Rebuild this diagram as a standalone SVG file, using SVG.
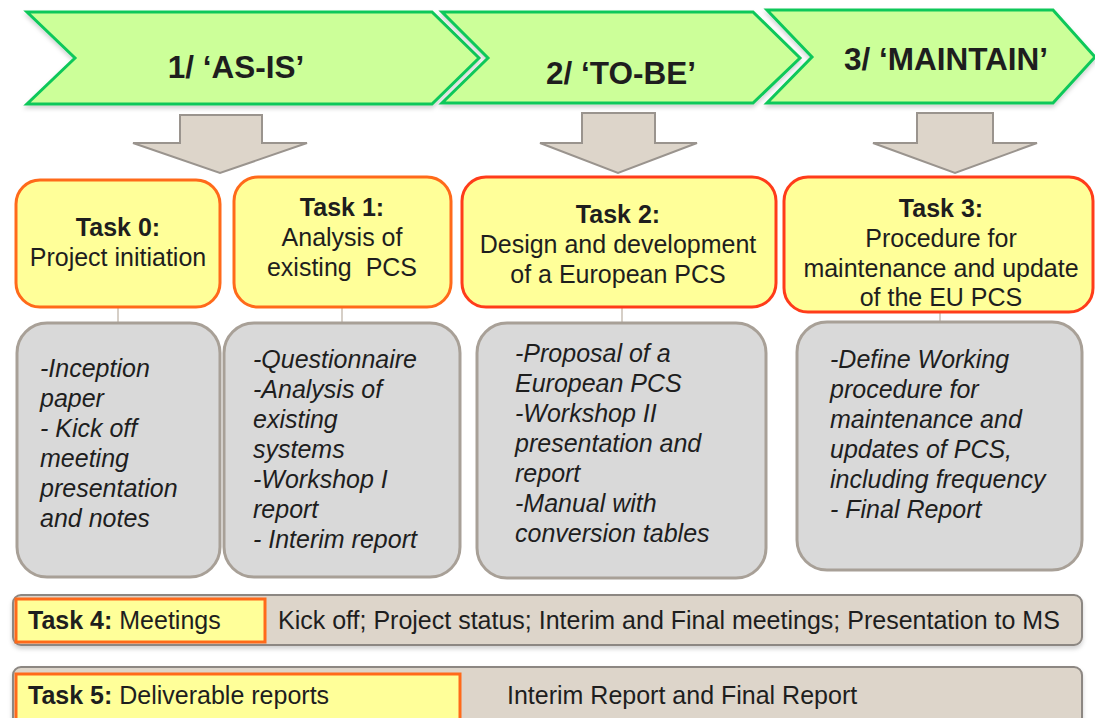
<svg xmlns="http://www.w3.org/2000/svg" width="1095" height="718" viewBox="0 0 1095 718">
<style>
text{font-family:"Liberation Sans",Arial,sans-serif;fill:#1e1e1e}
.chev{fill:#ccff99;stroke:#10c85a;stroke-width:3;stroke-linejoin:miter}
.ct{font-size:31.5px;font-weight:bold;text-anchor:middle}
.arr{fill:#ddd5ca;stroke:#9a948e;stroke-width:2}
.task{fill:#ffff99;stroke-width:3}
.o1{stroke:#ff6a1a}
.o2{stroke:#ff3c1a}
.tt{font-size:25px;text-anchor:middle}
.b{font-weight:bold}
.grey{fill:#d9d9d9;stroke:#a8a097;stroke-width:3}
.gt{font-size:25px;font-style:italic}
.bar{fill:#ddd5ca;stroke:#8c8782;stroke-width:2}
.bt{font-size:25px}
.conn{stroke:#c9bfb4;stroke-width:1.5;fill:none}
</style>
<defs>
<filter id="sh" x="-5%" y="-10%" width="110%" height="130%">
<feDropShadow dx="0" dy="3" stdDeviation="2" flood-color="#000" flood-opacity="0.18"/>
</filter>
</defs>
<g id="phase1">
<polygon class="chev" filter="url(#sh)" points="27,12 432,12 479,58 432,104 27,104 75,58"/>
<text class="ct" x="236" y="78">1/ ‘AS-IS’</text>
</g>
<g id="phase2">
<polygon class="chev" filter="url(#sh)" points="442,12 753,12 800,58 753,103 442,103 488,58"/>
<text class="ct" x="621" y="84">2/ ‘TO-BE’</text>
</g>
<g id="phase3">
<polygon class="chev" filter="url(#sh)" points="767,10 1053,10 1095,57 1053,103 767,103 812,57"/>
<text class="ct" x="946" y="70">3/ ‘MAINTAIN’</text>
</g>
<g id="arrow1"><polygon class="arr" points="180,115 262,115 262,143 307,143 220,173 133,143 180,143"/></g>
<g id="arrow2"><polygon class="arr" points="582,113 655,113 655,143 697,143 618,173 540,143 582,143"/></g>
<g id="arrow3"><polygon class="arr" points="917,113 993,113 993,143 1037,143 955,173 873,143 917,143"/></g>
<g id="connectors">
<line class="conn" x1="118" y1="307" x2="118" y2="323"/>
<line class="conn" x1="342" y1="307" x2="342" y2="323"/>
<line class="conn" x1="622" y1="307" x2="622" y2="323"/>
<line class="conn" x1="940" y1="312" x2="940" y2="322"/>
</g>
<g id="task0">
<rect class="task o1" x="16" y="180" width="204" height="127" rx="24"/>
<text class="tt" x="118" y="236"><tspan class="b">Task 0:</tspan><tspan x="118" y="266">Project initiation</tspan></text>
</g>
<g id="task1">
<rect class="task o1" x="234" y="177" width="217" height="130" rx="24"/>
<text class="tt" x="342" y="216" xml:space="preserve"><tspan class="b">Task 1:</tspan><tspan x="342" y="246">Analysis of</tspan><tspan x="342" y="276">existing  PCS</tspan></text>
</g>
<g id="task2">
<rect class="task o2" x="462" y="177" width="314" height="130" rx="24"/>
<text class="tt" x="618" y="223"><tspan class="b">Task 2:</tspan><tspan x="618" y="253">Design and development</tspan><tspan x="618" y="283">of a European PCS</tspan></text>
</g>
<g id="task3">
<rect class="task o2" x="784" y="177" width="309" height="135" rx="24"/>
<text class="tt" x="941" y="217"><tspan class="b">Task 3:</tspan><tspan x="941" y="247">Procedure for</tspan><tspan x="941" y="277">maintenance and update</tspan><tspan x="941" y="306">of the EU PCS</tspan></text>
</g>
<g id="out0">
<rect class="grey" x="17" y="323" width="203" height="254" rx="30"/>
<text class="gt" x="40" y="377"><tspan>-Inception</tspan><tspan x="40" y="407">paper</tspan><tspan x="40" y="437">- Kick off</tspan><tspan x="40" y="467">meeting</tspan><tspan x="40" y="497">presentation</tspan><tspan x="40" y="527">and notes</tspan></text>
</g>
<g id="out1">
<rect class="grey" x="224" y="323" width="236" height="254" rx="30"/>
<text class="gt" x="253" y="368"><tspan>-Questionnaire</tspan><tspan x="253" y="398">-Analysis of</tspan><tspan x="253" y="428">existing</tspan><tspan x="253" y="458">systems</tspan><tspan x="253" y="488">-Workshop I</tspan><tspan x="253" y="518">report</tspan><tspan x="253" y="548">- Interim report</tspan></text>
</g>
<g id="out2">
<rect class="grey" x="477" y="323" width="289" height="255" rx="30"/>
<text class="gt" x="515" y="362"><tspan>-Proposal of a</tspan><tspan x="515" y="392">European PCS</tspan><tspan x="515" y="422">-Workshop II</tspan><tspan x="515" y="452">presentation and</tspan><tspan x="515" y="482">report</tspan><tspan x="515" y="512">-Manual with</tspan><tspan x="515" y="542">conversion tables</tspan></text>
</g>
<g id="out3">
<rect class="grey" x="797" y="322" width="285" height="248" rx="30"/>
<text class="gt" x="830" y="368"><tspan>-Define Working</tspan><tspan x="830" y="398">procedure for</tspan><tspan x="830" y="428">maintenance and</tspan><tspan x="830" y="458">updates of PCS,</tspan><tspan x="830" y="488">including frequency</tspan><tspan x="830" y="518">- Final Report</tspan></text>
</g>
<g id="task4">
<rect class="bar" filter="url(#sh)" x="13" y="595" width="1069" height="50" rx="8"/>
<rect class="task o1" x="16" y="599" width="249" height="43"/>
<text class="bt" x="28" y="629"><tspan class="b">Task 4:</tspan> Meetings</text>
<text class="bt" x="278" y="629">Kick off; Project status; Interim and Final meetings; Presentation to MS</text>
</g>
<g id="task5">
<rect class="bar" filter="url(#sh)" x="13" y="667" width="1069" height="70" rx="8"/>
<rect class="task o1" x="16" y="674" width="444" height="60"/>
<text class="bt" x="28" y="704"><tspan class="b">Task 5:</tspan> Deliverable reports</text>
<text class="bt" x="507" y="704">Interim Report and Final Report</text>
</g>
</svg>
